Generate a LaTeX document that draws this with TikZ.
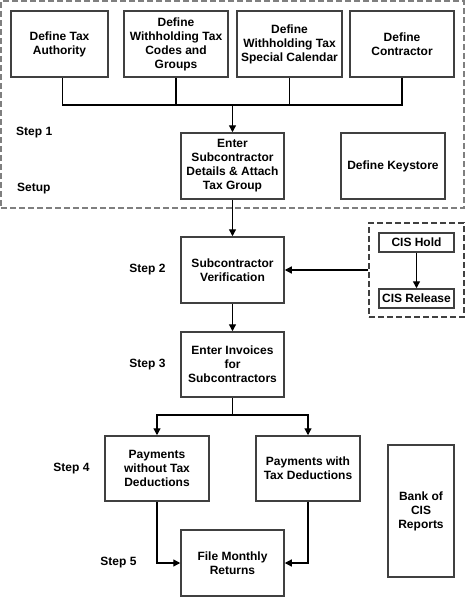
\documentclass[tikz,border=0pt]{standalone}
\usepackage{fontspec}
\setmainfont{Liberation Sans}
\usepackage{tikz}
\usetikzlibrary{arrows.meta, positioning}
\definecolor{boxgrey}{HTML}{404040}
\definecolor{dashgrey}{HTML}{7F7F7F}

\begin{document}
\begin{tikzpicture}[x=1pt, y=-1pt,
        procbox/.style={draw=boxgrey, line width=1.5pt, fill=white, align=center, inner sep=0pt,
            font=\bfseries\fontsize{12}{14}\selectfont},
        groupbox/.style={draw=dashgrey, line width=1.5pt, dash pattern=on 6pt off 3pt, inner sep=0pt},
        steplabel/.style={font=\bfseries\fontsize{12}{14}\selectfont, inner sep=0pt},
        link/.style={line width=1.3pt, black},
        flow/.style={link, -{Triangle[length=7pt, width=7pt]}}]
                \useasboundingbox (0,0) rectangle (465,597);
                \node[groupbox, minimum width=463pt, minimum height=207pt] (setup) at (232.5,104.5) {};
                \node[groupbox, draw=boxgrey, minimum width=95pt, minimum height=94pt] (cisgroup) at (416.5,270) {};

                \node[procbox, minimum width=97pt, minimum height=66pt] (authority) at (59.5,44) {Define Tax\\Authority};
                \node[procbox, minimum width=104pt, minimum height=66pt] (codes) at (176,44) {Define\\Withholding Tax\\Codes and\\Groups};
                \node[procbox, minimum width=105pt, minimum height=66pt] (calendar) at (289.5,44) {Define\\Withholding Tax\\Special Calendar};
                \node[procbox, minimum width=104pt, minimum height=66pt] (contractor) at (402,44) {Define\\Contractor};
                \node[procbox, minimum width=103pt, minimum height=66pt] (details) at (232.5,166) {Enter\\Subcontractor\\Details \& Attach\\Tax Group};
                \node[procbox, minimum width=104pt, minimum height=66pt] (keystore) at (393,166) {Define Keystore};
                \node[procbox, minimum width=103pt, minimum height=66pt] (verify) at (232.5,270) {Subcontractor\\Verification};
                \node[procbox, minimum width=75pt, minimum height=19pt] (hold) at (416.5,242.5) {CIS Hold};
                \node[procbox, minimum width=75pt, minimum height=19pt] (release) at (416.5,298.5) {CIS Release};
                \node[procbox, minimum width=103pt, minimum height=65pt] (invoices) at (232.5,364.5) {Enter Invoices\\for\\Subcontractors};
                \node[procbox, minimum width=104pt, minimum height=65pt] (notax) at (157,468.5) {Payments\\without Tax\\Deductions};
                \node[procbox, minimum width=104pt, minimum height=65pt] (withtax) at (308,468.5) {Payments with\\Tax Deductions};
                \node[procbox, minimum width=66pt, minimum height=132pt] (bank) at (421,511) {Bank of\\CIS\\Reports};
                \node[procbox, minimum width=103pt, minimum height=66pt] (returns) at (232.5,563) {File Monthly\\Returns};

                \node[steplabel, anchor=west] (step1) at (16,133) {Step 1};
                \node[steplabel, anchor=west] (setuplabel) at (17,189) {Setup};
                \node[steplabel] (step2) at (147.5,270) {Step 2};
                \node[steplabel] (step3) at (147.5,365) {Step 3};
                \node[steplabel] (step4) at (71.5,469) {Step 4};
                \node[steplabel] (step5) at (118.5,563) {Step 5};

                \coordinate (bus) at (232.5,105);
                \draw[link] ([xshift=3pt]authority.south) |- (bus);
                \draw[link] (codes.south) |- (bus);
                \draw[link] (calendar.south) |- (bus);
                \draw[link] (contractor.south) |- (bus);
                \draw[flow] (bus) -- (details.north);
                \draw[flow] (details.south) -- (verify.north);
                \draw[flow] (cisgroup.west) -- (verify.east);
                \draw[flow] (hold.south) -- (release.north);
                \draw[flow] (verify.south) -- (invoices.north);
                \coordinate (split) at (232.5,415);
                \draw[link] (invoices.south) -- (split);
                \draw[flow] (split) -| (notax.north);
                \draw[flow] (split) -| (withtax.north);
                \draw[flow] (notax.south) |- (returns.west);
                \draw[flow] (withtax.south) |- (returns.east);
            \end{tikzpicture}
\end{document}
